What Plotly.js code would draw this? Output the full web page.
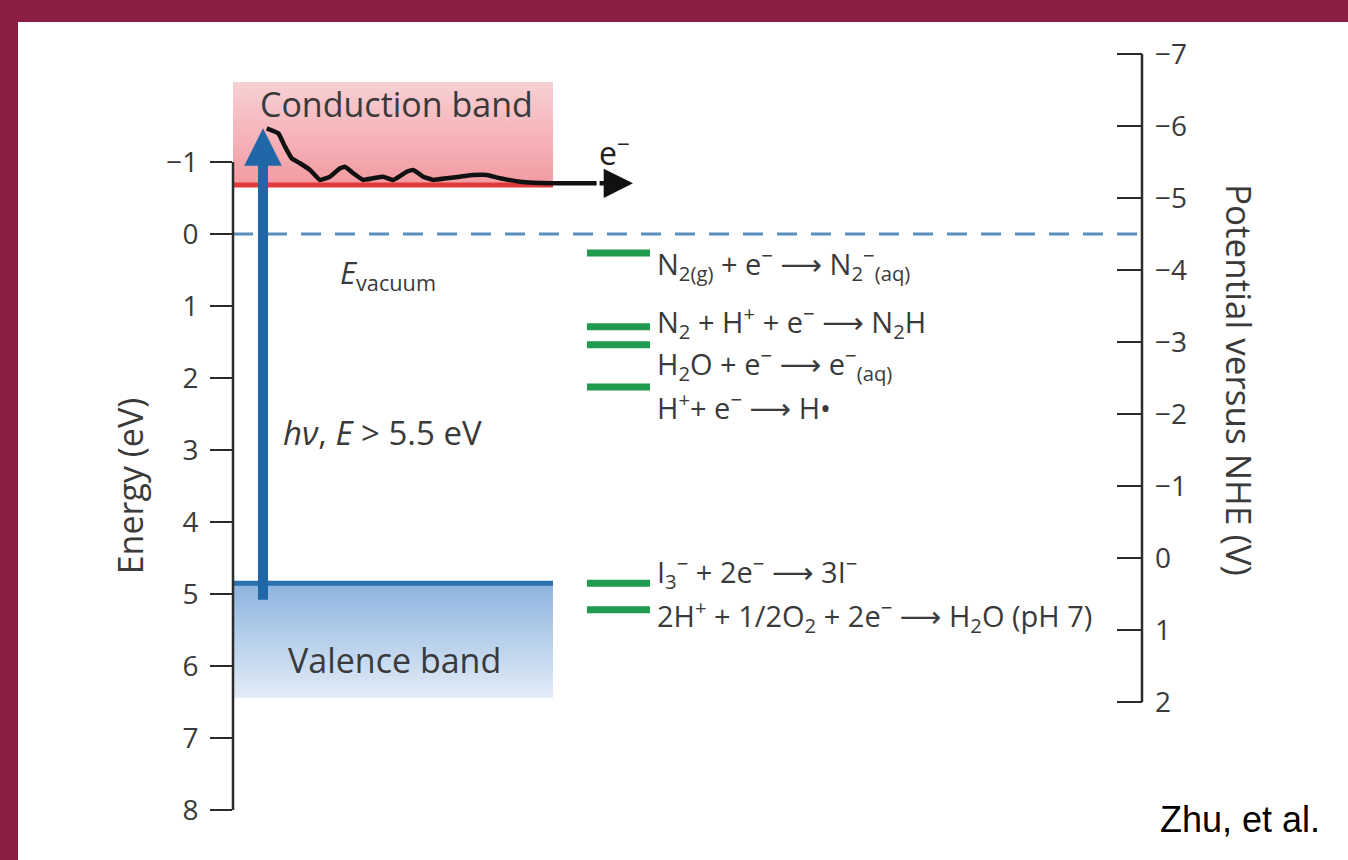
<!DOCTYPE html>
<html>
<head>
<meta charset="utf-8">
<script src="https://cdn.plot.ly/plotly-3.0.1.min.js"></script>
<style>
  html, body { margin: 0; padding: 0; background: #8a1d40; width: 1348px; height: 860px; overflow: hidden; }
  #chart { position: absolute; left: 18px; top: 22px; width: 1330px; height: 838px; }
</style>
</head>
<body>
<div id="chart"></div>
<script>
// ---------- data ----------
const energyTicks = [-1, 0, 1, 2, 3, 4, 5, 6, 7, 8];          // eV (vacuum scale, left)
const potentialTicks = [-7, -6, -5, -4, -3, -2, -1, 0, 1, 2];  // V vs NHE (right)
const vacuumOffset = 4.5;                                      // E(eV) = V(NHE) + offset

const bandNames = ["Conduction band", "Valence band"];
const conductionTop = -2.11, conductionMin = -0.68;
const valenceMax = 4.85, valenceBottom = 6.44;
const bandXStart = 0, bandXEnd = 3.52;

const excitationX = 0.33, excitationFrom = 5.22, excitationTo = -1.47;

const waveX = [0.371, 0.498, 0.572, 0.646, 0.737, 0.847, 0.957, 1.067, 1.177, 1.232, 1.323, 1.433,
               1.543, 1.653, 1.763, 1.911, 1.983, 2.093, 2.203, 2.351, 2.497, 2.644, 2.791, 2.937,
               3.157, 3.520, 4.000];
const waveE = [-1.468, -1.399, -1.213, -1.051, -0.982, -0.889, -0.750, -0.796, -0.913, -0.935, -0.843, -0.750,
               -0.774, -0.796, -0.750, -0.865, -0.889, -0.796, -0.750, -0.774, -0.796, -0.819, -0.819, -0.774,
               -0.726, -0.704, -0.704];
const waveEndX = 4.40;

const reactionLabels = [
  "N<sub>2(g)</sub> + e<sup>−</sup> ⟶ N<sub>2</sub><sup>−</sup><sub>(aq)</sub>",
  "N<sub>2</sub> + H<sup>+</sup> + e<sup>−</sup> ⟶ N<sub>2</sub>H",
  "H<sub>2</sub>O + e<sup>−</sup> ⟶ e<sup>−</sup><sub>(aq)</sub>",
  "H<sup>+</sup>+ e<sup>−</sup> ⟶ H•",
  "I<sub>3</sub><sup>−</sup> + 2e<sup>−</sup> ⟶ 3I<sup>−</sup>",
  "2H<sup>+</sup> + 1/2O<sub>2</sub> + 2e<sup>−</sup> ⟶ H<sub>2</sub>O (pH 7)"
];
const reactionLevels = [0.264, 1.29, 1.54, 2.125, 4.85, 5.22];    // eV, green bars
const reactionLabelE = [0.42, 1.22, 1.80, 2.39, 4.69, 5.31];      // eV, label rows
const levelXStart = 3.894, levelXEnd = 4.587, labelX = 4.64;

const leftTitle = "Energy (eV)";
const rightTitle = "Potential versus NHE (V)";
const credit = "Zhu, et al.";

// ---------- layout ----------
const yRange = [8.208, -2.694];
const y2Range = [yRange[0] - vacuumOffset, yRange[1] - vacuumOffset];
const FONT = "Open Sans, DejaVu Sans, sans-serif";
const TXT = "#3a3a3a";

const traces = [];

// conduction band (gradient fill)
traces.push({
  x: [bandXStart, bandXEnd, bandXEnd, bandXStart, bandXStart],
  y: [conductionTop, conductionTop, conductionMin, conductionMin, conductionTop],
  type: "scatter", mode: "lines", fill: "toself", line: {width: 0},
  fillgradient: {type: "vertical", start: conductionTop, stop: conductionMin,
                 colorscale: [[0, "#f7d0d3"], [1, "#f39aa2"]]},
  hoverinfo: "skip"
});
// valence band
traces.push({
  x: [bandXStart, bandXEnd, bandXEnd, bandXStart, bandXStart],
  y: [valenceMax, valenceMax, valenceBottom, valenceBottom, valenceMax],
  type: "scatter", mode: "lines", fill: "toself", line: {width: 0},
  fillgradient: {type: "vertical", start: valenceMax, stop: valenceBottom,
                 colorscale: [[0, "#8cb3de"], [1, "#e2ecf7"]]},
  hoverinfo: "skip"
});
// band edges
traces.push({x: [bandXStart, bandXEnd], y: [conductionMin, conductionMin], type: "scatter", mode: "lines",
             line: {color: "#e23a3a", width: 5}, hoverinfo: "skip"});
traces.push({x: [bandXStart, bandXEnd], y: [valenceMax, valenceMax], type: "scatter", mode: "lines",
             line: {color: "#2a6fae", width: 5}, hoverinfo: "skip"});
// vacuum level
traces.push({x: [0, 10], y: [0, 0], type: "scatter", mode: "lines",
             line: {color: "#5a8fbb", width: 3, dash: "20px,14px"}, hoverinfo: "skip"});
// redox levels
const lx = [], ly = [];
reactionLevels.forEach(v => { lx.push(levelXStart, levelXEnd, null); ly.push(v, v, null); });
traces.push({x: lx, y: ly, type: "scatter", mode: "lines", line: {color: "#1f9a4f", width: 7}, hoverinfo: "skip"});
// relaxing electron
traces.push({x: waveX, y: waveE, type: "scatter", mode: "lines",
             line: {color: "#111", width: 4.5, shape: "spline", smoothing: 0.3}, hoverinfo: "skip"});
// right axis helper trace (to bind yaxis2)
traces.push({x: [10], y: [potentialTicks[0]], yaxis: "y2", type: "scatter", mode: "markers",
             marker: {opacity: 0}, hoverinfo: "skip"});

const annotations = [];
// excitation arrow
annotations.push({x: excitationX, y: excitationTo, ax: excitationX, ay: excitationFrom, xref: "x", yref: "y",
                  axref: "x", ayref: "y", showarrow: true, arrowhead: 2, arrowsize: 0.75, arrowwidth: 10,
                  arrowcolor: "#1f67a6", text: " "});
// electron arrow head
annotations.push({x: waveEndX, y: waveE[waveE.length - 1], ax: waveX[waveX.length - 1], ay: waveE[waveE.length - 1],
                  xref: "x", yref: "y", axref: "x", ayref: "y", showarrow: true, arrowhead: 2, arrowsize: 1.3,
                  arrowwidth: 4.5, arrowcolor: "#111", text: " "});
// texts
const txt = (x, y, text, size, extra) => Object.assign({x, y, xref: "x", yref: "y", text, showarrow: false,
                  font: {family: FONT, size, color: TXT}}, extra || {});
annotations.push(txt(1.80, -1.80, bandNames[0], 34));
annotations.push(txt(1.78, 5.92, bandNames[1], 34));
annotations.push(txt(4.20, -1.15, "e<sup>−</sup>", 32, {font: {family: FONT, size: 32, color: "#222"}}));
annotations.push(txt(1.70, 0.55, "<i>E</i><sub>vacuum</sub>", 31));
annotations.push(txt(1.65, 2.75, "<i>hν</i>, <i>E</i> &gt; 5.5 eV", 33));
reactionLabels.forEach((t, i) => annotations.push(txt(labelX, reactionLabelE[i], t, 29, {xanchor: "left"})));
annotations.push({x: -0.113, y: 3.5, xref: "paper", yref: "y", xanchor: "center", yanchor: "middle",
                  text: leftTitle, textangle: -90, showarrow: false,
                  font: {family: FONT, size: 34, color: TXT}});
annotations.push({x: 1.108, y: 2.03, xref: "paper", yref: "y", xanchor: "center", yanchor: "middle",
                  text: rightTitle, textangle: 90, showarrow: false,
                  font: {family: FONT, size: 35, color: TXT}});
annotations.push({x: 1.198, y: 0.007, xref: "paper", yref: "paper", xanchor: "right", yanchor: "middle",
                  text: credit, showarrow: false, font: {family: "Liberation Sans, Arial, sans-serif", size: 36, color: "#000"}});

const shapes = [
  {type: "line", xref: "paper", yref: "y", x0: 0, x1: 0, y0: energyTicks[0], y1: energyTicks[energyTicks.length - 1],
   line: {color: "#2b2b2b", width: 2.5}},
  {type: "line", xref: "paper", yref: "y2", x0: 1, x1: 1, y0: potentialTicks[0], y1: potentialTicks[potentialTicks.length - 1],
   line: {color: "#2b2b2b", width: 2.5}}
];

const layout = {
  width: 1330, height: 838,
  margin: {l: 215, r: 206, t: 18, b: 35},
  paper_bgcolor: "#ffffff", plot_bgcolor: "rgba(0,0,0,0)",
  showlegend: false,
  xaxis: {range: [0, 10], visible: false, fixedrange: true},
  yaxis: {range: yRange, tickvals: energyTicks, ticks: "outside", ticklen: 22, tickwidth: 2.5, tickcolor: "#2b2b2b",
          ticklabelstandoff: 6,
          showgrid: false, zeroline: false, showline: false, fixedrange: true,
          tickfont: {family: FONT, size: 28, color: TXT}},
  yaxis2: {range: y2Range, overlaying: "y", side: "right", tickvals: potentialTicks, ticks: "inside", ticklen: 25,
           tickwidth: 2.5, tickcolor: "#2b2b2b", showgrid: false, zeroline: false, showline: false, fixedrange: true,
           ticklabelstandoff: 12,
           tickfont: {family: FONT, size: 28, color: TXT}},
  shapes, annotations
};

Plotly.newPlot("chart", traces, layout, {displayModeBar: false, staticPlot: true});
</script>
</body>
</html>
